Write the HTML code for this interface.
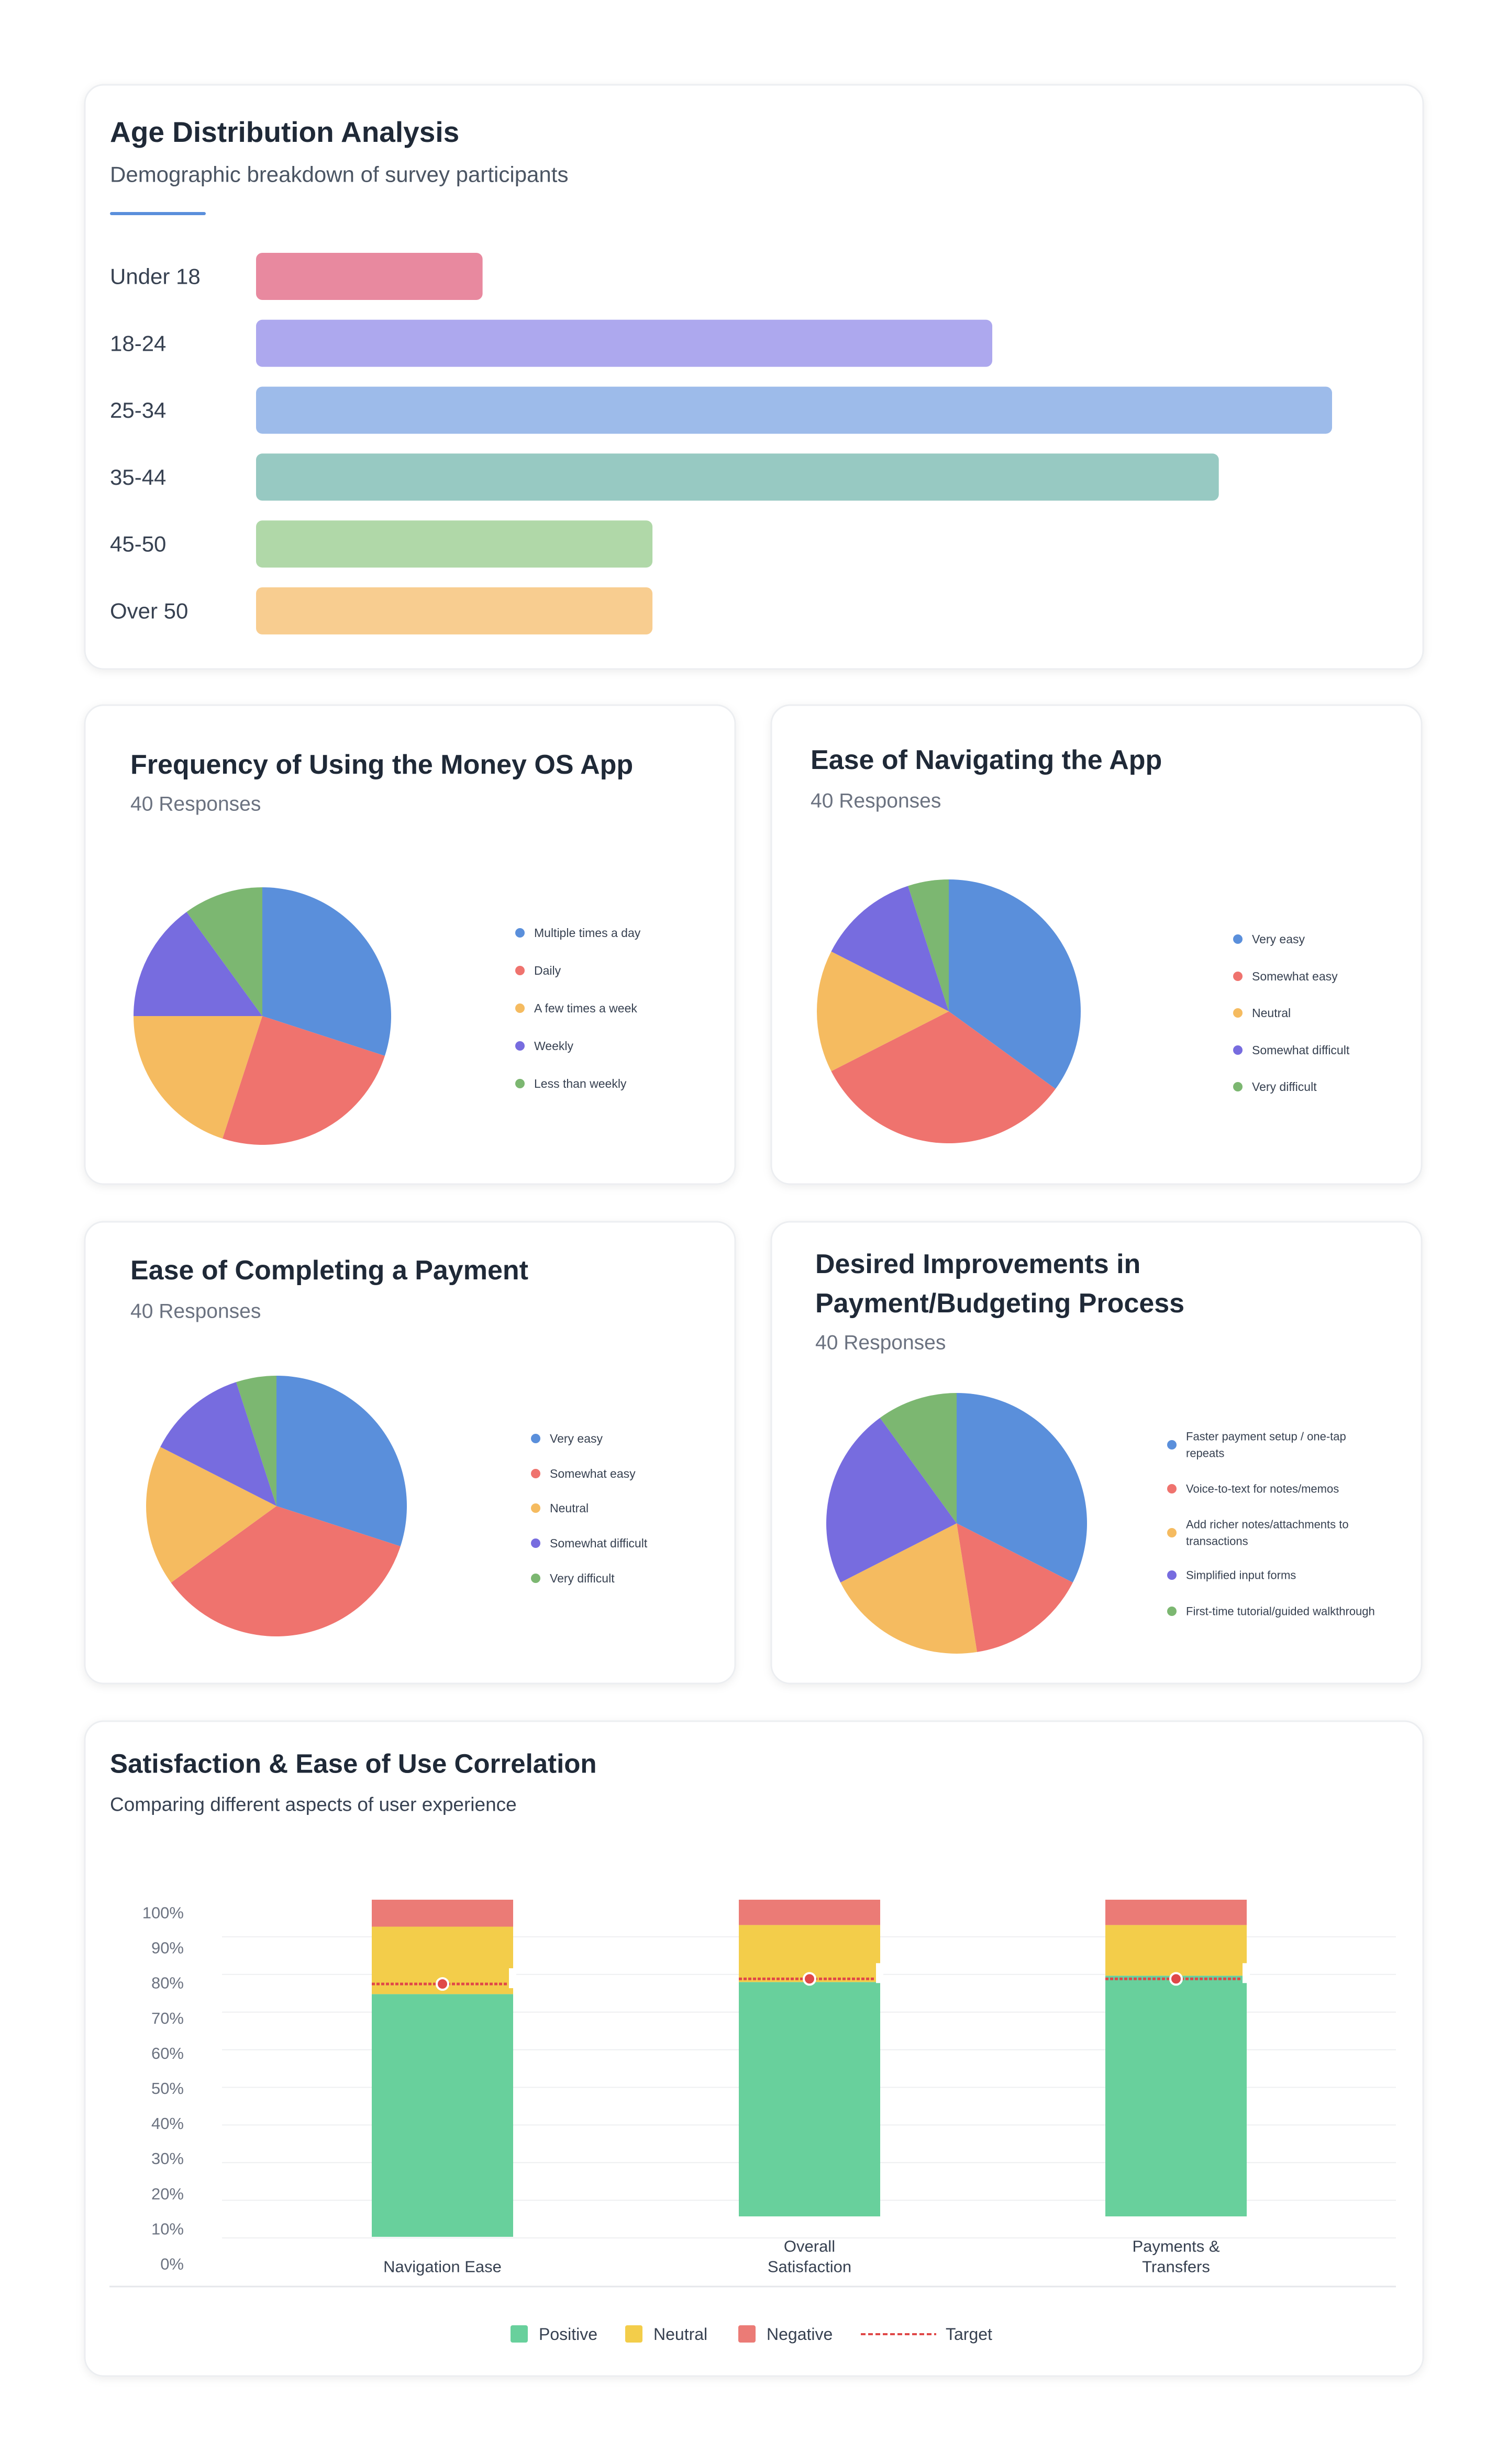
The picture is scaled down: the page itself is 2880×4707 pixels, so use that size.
<!DOCTYPE html>
<html><head><meta charset="utf-8"><style>
html,body{margin:0;padding:0;background:#fff;width:2880px;height:4707px;overflow:hidden}
svg{display:block;font-family:"Liberation Sans",Arial,sans-serif}
</style></head><body>
<svg id="s" width="2880" height="4707" viewBox="0 0 2880 4707" xmlns="http://www.w3.org/2000/svg">
<defs><filter id="sh" x="-5%" y="-5%" width="110%" height="110%"><feDropShadow dx="0" dy="4" stdDeviation="8" flood-color="#000" flood-opacity="0.07"/></filter></defs>
<g id="cards"></g>
<g id="content"></g>
</svg>
<script>
// ---- data ----
const ageCategories = ["Under 18","18-24","25-34","35-44","45-50","Over 50"];
const ageValues = [4,13,19,17,7,7];
const ageColors = ["#e8899f","#ada8ee","#9dbbea","#97c9c2","#b0d8a8","#f8cd90"];

const freqLabels = ["Multiple times a day","Daily","A few times a week","Weekly","Less than weekly"];
const freqValues = [12,10,8,6,4];
const navLabels = ["Very easy","Somewhat easy","Neutral","Somewhat difficult","Very difficult"];
const navValues = [14,13,6,5,2];
const payLabels = ["Very easy","Somewhat easy","Neutral","Somewhat difficult","Very difficult"];
const payValues = [12,14,7,5,2];
const impLabels = [["Faster payment setup / one-tap","repeats"],["Voice-to-text for notes/memos"],["Add richer notes/attachments to","transactions"],["Simplified input forms"],["First-time tutorial/guided walkthrough"]];
const impValues = [13,6,8,9,4];
const pieColors = ["#5a8fdb","#ef736e","#f5bb60","#776cdf","#7cb771"];

const corrCategories = [["Navigation Ease"],["Overall","Satisfaction"],["Payments &","Transfers"]];
const positiveValues = [72,74,76];
const neutralValues = [20,18,16];
const negativeValues = [8,8,8];
const targetValues = [75,75,75];
const yTickLabels = ["100%","90%","80%","70%","60%","50%","40%","30%","20%","10%","0%"];

const NS="http://www.w3.org/2000/svg";
const cards=document.getElementById('cards'), C=document.getElementById('content');
function mk(tag,attrs,parent,text){const e=document.createElementNS(NS,tag);for(const k in attrs)e.setAttribute(k,attrs[k]);if(text!==undefined)e.textContent=text;(parent||C).appendChild(e);return e;}

const cardDefs=[["age-card",162,162,2556,1116],["frequency-card",162,1347,1242,915],["navigation-card",1473,1347,1242,915],["payment-card",162,2334,1242,882],["improvements-card",1473,2334,1242,882],["correlation-card",162,3288,2556,1251]];
cardDefs.forEach(d=>{const r=mk('rect',{x:d[1],y:d[2],width:d[3],height:d[4],rx:36,fill:'#fff',stroke:'#eceef1','stroke-width':3,filter:'url(#sh)'},cards);

});

function txt(x,y,s,size,fill,weight,name,anchor){const t=mk('text',{x:x,y:y,'font-size':size,fill:fill,'font-weight':weight||'normal','dominant-baseline':'central','text-anchor':anchor||'start'},C,s);

return t;}

// ---- Age chart ----
txt(210,252,"Age Distribution Analysis",55,"#1f2937","bold","age-chart-title");
txt(210,333,"Demographic breakdown of survey participants",42,"#4b5563","normal","age-chart-subtitle");
const ul=mk('rect',{x:210,y:405,width:183,height:6,fill:'#5a8fdb',rx:3});


const ageX0=489, agePxPerUnit=2055/19, ageRowY0=528, ageRowStep=127.8;
ageCategories.forEach((c,i)=>{const cy=ageRowY0+i*ageRowStep;
 txt(210,cy,c,42,"#374151","normal","age-label-"+c.toLowerCase().replace(/\s+/g,'-'));
 const b=mk('rect',{x:ageX0,y:cy-45,width:ageValues[i]*agePxPerUnit,height:90,rx:12,fill:ageColors[i]});
 
 });

// ---- pies ----
function pie(prefix,values,labels,cx,cy,r,legX,legY0,legStep,fontSize){
 const tot=values.reduce((a,b)=>a+b,0);let a0=0;
 values.forEach((v,i)=>{const a1=a0+v/tot*2*Math.PI;
  const x0=cx+r*Math.sin(a0),y0=cy-r*Math.cos(a0),x1=cx+r*Math.sin(a1),y1=cy-r*Math.cos(a1);
  const large=(a1-a0)>Math.PI?1:0;
  const p=mk('path',{d:`M${cx},${cy}L${x0},${y0}A${r},${r} 0 ${large} 1 ${x1},${y1}Z`,fill:pieColors[i]});
  
  
  a0=a1;});
 labels.forEach((l,i)=>{const lines=Array.isArray(l)?l:[l];const y=legY0[i];
  const d=mk('circle',{cx:legX,cy:y,r:9,fill:pieColors[i]});
  
  
  lines.forEach((ln,j)=>txt(legX+27,y+(j-(lines.length-1)/2)*32,ln,fontSize,"#374151","normal",prefix+'-legend-label-'+i));});
}
txt(249,1461,"Frequency of Using the Money OS App",52,"#1f2937","bold","frequency-title");
txt(249,1536,"40 Responses",39,"#6b7280","normal","frequency-responses");
pie('frequency',freqValues,freqLabels,501,1941,246,993,[1782,1854,1926,1998,2070],0,23);

txt(1548,1452,"Ease of Navigating the App",52,"#1f2937","bold","navigation-title");
txt(1548,1530,"40 Responses",39,"#6b7280","normal","navigation-responses");
pie('navigation',navValues,navLabels,1812,1932,252,2364,[1794,1865,1935,2006,2076],0,23);

txt(249,2427,"Ease of Completing a Payment",52,"#1f2937","bold","payment-title");
txt(249,2505,"40 Responses",39,"#6b7280","normal","payment-responses");
pie('payment',payValues,payLabels,528,2877,249,1023,[2748,2815,2881,2948,3015],0,23);

txt(1557,2415,"Desired Improvements in",52,"#1f2937","bold","improvements-title-line1");
txt(1557,2490,"Payment/Budgeting Process",52,"#1f2937","bold","improvements-title-line2");
txt(1557,2565,"40 Responses",39,"#6b7280","normal","improvements-responses");
pie('improvements',impValues,impLabels,1827,2910,249,2238,[2760,2844,2928,3009,3078],0,22);

// ---- correlation chart ----
txt(210,3369,"Satisfaction & Ease of Use Correlation",51,"#1f2937","bold","correlation-title");
txt(210,3447,"Comparing different aspects of user experience",37,"#374151","normal","correlation-subtitle");
for(let k=1;k<=9;k++){const g=mk('line',{x1:424,x2:2666,y1:3628+k*71.9,y2:3628+k*71.9,stroke:'#eeeff1','stroke-width':2});
 
 }
const ax=mk('line',{x1:209,x2:2666,y1:4368,y2:4368,stroke:'#e5e7eb','stroke-width':3});


yTickLabels.forEach((l,i)=>txt(351,3654+i*67.1,l,31,"#6b7280","normal","y-tick-label","end"));
const barLeft=[710,1411,2111], barW=270, barBase=[4273,4234,4234], barPxPct=[6.44,6.05,6.05];
corrCategories.forEach((cat,i)=>{
 const yOf=v=>barBase[i]-v*barPxPct[i];
 const segs=[[0,positiveValues[i],'#68d09c','positive'],[positiveValues[i],positiveValues[i]+neutralValues[i],'#f3cd4a','neutral'],[positiveValues[i]+neutralValues[i],positiveValues[i]+neutralValues[i]+negativeValues[i],'#eb7b76','negative']];
 segs.forEach((s,j)=>{const y1=yOf(s[1]),y0=yOf(s[0]);
  const r=mk('rect',{x:barLeft[i],y:y1,width:barW,height:y0-y1,fill:s[2]});
  
  
 });
 const ty=yOf(targetValues[i]);
 const tl=mk('line',{x1:barLeft[i],x2:barLeft[i]+barW-10,y1:ty,y2:ty,stroke:'#e04848','stroke-width':5,'stroke-dasharray':'6 3'});
 
 
 const tag=mk('rect',{x:barLeft[i]+barW-8,y:ty-30,width:14,height:38,fill:'#fff'});
 
 
 const dot=mk('circle',{cx:barLeft[i]+barW/2,cy:ty,r:11,fill:'#e04848',stroke:'#fff','stroke-width':4});
 
 
 const cx=barLeft[i]+barW/2;
 cat.forEach((ln,j)=>txt(cx,4330-(cat.length-1-j)*39,ln,31,"#374151","normal","x-category-label-"+i,"middle"));
});
const legItems=[["Positive","#68d09c",975],["Neutral","#f3cd4a",1194],["Negative","#eb7b76",1410]];
legItems.forEach(l=>{const r=mk('rect',{x:l[2],y:4442,width:33,height:33,rx:4,fill:l[1]});
 
 
 txt(l[2]+54,4459,l[0],32,"#374151","normal","legend-label-"+l[0].toLowerCase());});
const ld=mk('line',{x1:1644,x2:1788,y1:4459,y2:4459,stroke:'#e04848','stroke-width':4,'stroke-dasharray':'9 5'});


txt(1806,4459,"Target",32,"#374151","normal","legend-label-target");
</script>
</body></html>
